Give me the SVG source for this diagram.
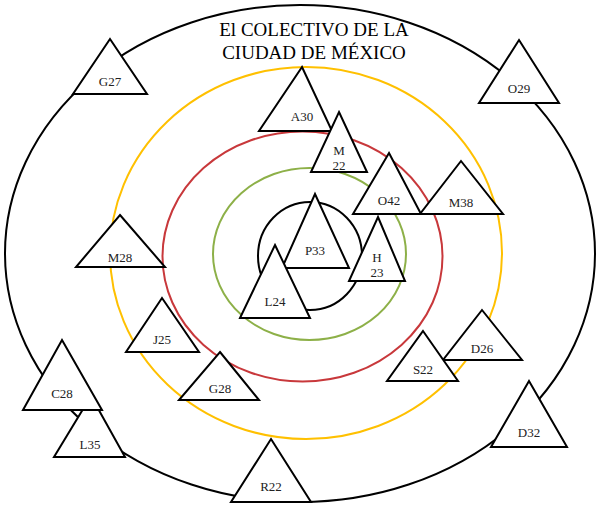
<svg xmlns="http://www.w3.org/2000/svg" width="601" height="508" viewBox="0 0 601 508">
<style>
.tri{fill:#fff;stroke:#000;stroke-width:2;stroke-linejoin:miter}
.lbl{font-family:"Liberation Serif",serif;font-size:13px;fill:#222;text-anchor:middle}
.title{font-family:"Liberation Serif",serif;font-size:19px;fill:#000;text-anchor:middle}
.ring{fill:none;stroke-width:2}
</style>
<rect width="601" height="508" fill="#fff"/>
<g id="rings">
<ellipse class="ring" cx="300" cy="253.5" rx="295" ry="248.5" stroke="#000" stroke-width="2.5"/>
<ellipse class="ring" cx="306" cy="253" rx="196" ry="186" stroke="#FFC000"/>
<ellipse class="ring" cx="302.5" cy="256.5" rx="140" ry="125" stroke="#C8383B"/>
<ellipse class="ring" cx="309.5" cy="254" rx="96.5" ry="86" stroke="#8DB048"/>
<ellipse class="ring" cx="310" cy="256" rx="52" ry="54" stroke="#000"/>
</g>
<g id="title">
<text class="title" x="314" y="36">El COLECTIVO DE LA</text>
<text class="title" x="314" y="59">CIUDAD DE MÉXICO</text>
</g>
<g id="G27"><polygon class="tri" points="110,39 147,94 73,94"/><text class="lbl" x="110" y="86">G27</text></g>
<g id="A30"><polygon class="tri" points="302,67 332,131 259,131"/><text class="lbl" x="302" y="121">A30</text></g>
<g id="M22"><polygon class="tri" points="339,112 367,172 311,172"/><text class="lbl" x="339" y="155">M</text><text class="lbl" x="339" y="170">22</text></g>
<g id="O42"><polygon class="tri" points="389,153 421,214 353,214"/><text class="lbl" x="389" y="205">O42</text></g>
<g id="M38"><polygon class="tri" points="461,161 503,214 420,214"/><text class="lbl" x="461" y="207">M38</text></g>
<g id="O29"><polygon class="tri" points="519,40 559,103 479,103"/><text class="lbl" x="519" y="93">O29</text></g>
<g id="P33"><polygon class="tri" points="315,194 349,268 282,268"/><text class="lbl" x="315" y="255">P33</text></g>
<g id="L24"><polygon class="tri" points="275,245 310,318 240,318"/><text class="lbl" x="275" y="306">L24</text></g>
<g id="H23"><polygon class="tri" points="378,217 405,281 349,281"/><text class="lbl" x="377" y="262">H</text><text class="lbl" x="377" y="277">23</text></g>
<g id="M28"><polygon class="tri" points="120,215 165,267 76,267"/><text class="lbl" x="120" y="262">M28</text></g>
<g id="J25"><polygon class="tri" points="162,298 199,352 126,352"/><text class="lbl" x="162" y="344">J25</text></g>
<g id="G28"><polygon class="tri" points="220,352 259,400 179,400"/><text class="lbl" x="220" y="393">G28</text></g>
<g id="L35"><polygon class="tri" points="91,396 125,457 54,457"/><text class="lbl" x="90" y="449">L35</text></g>
<g id="C28"><polygon class="tri" points="62,340 102,410 23,410"/><text class="lbl" x="62" y="398">C28</text></g>
<g id="R22"><polygon class="tri" points="271,439 311,502 231,502"/><text class="lbl" x="271" y="491">R22</text></g>
<g id="D26"><polygon class="tri" points="482,310 522,360 443,360"/><text class="lbl" x="482" y="353">D26</text></g>
<g id="S22"><polygon class="tri" points="423,331 458,381 387,381"/><text class="lbl" x="423" y="374">S22</text></g>
<g id="D32"><polygon class="tri" points="529,381 567,447 491,447"/><text class="lbl" x="529" y="437">D32</text></g>
</svg>
